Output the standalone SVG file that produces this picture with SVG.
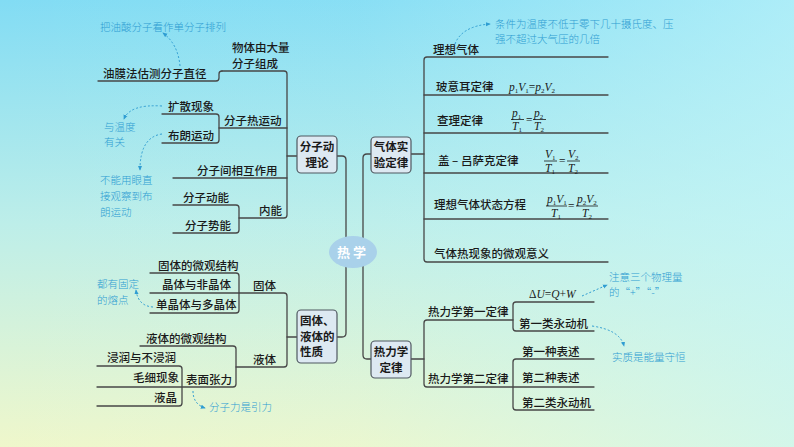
<svg xmlns="http://www.w3.org/2000/svg" width="794" height="447" viewBox="0 0 794 447">
<defs>
<linearGradient id="bgv" x1="0" y1="0" x2="0" y2="1">
<stop offset="0" stop-color="#82dcf4"/>
<stop offset="0.5" stop-color="#bdeee9"/>
<stop offset="1" stop-color="#eff7cb"/>
</linearGradient>
<linearGradient id="bgh" x1="0" y1="0" x2="1" y2="0">
<stop offset="0" stop-color="#c4f6fa" stop-opacity="0"/>
<stop offset="0.45" stop-color="#c4f6fa" stop-opacity="0.1"/>
<stop offset="1" stop-color="#c4f6fa" stop-opacity="0.65"/>
</linearGradient>
<marker id="ah" viewBox="0 0 6 6" refX="5" refY="3" markerWidth="5" markerHeight="5" orient="auto">
<path d="M0,0.5 L6,3 L0,5.5 z" fill="#2f9dd2"/>
</marker>
<style>
.ln{fill:none;stroke:#474747;stroke-width:1.3;stroke-linecap:round}
.t{font-family:"Noto Sans CJK SC","Noto Sans",sans-serif;font-size:11.5px;font-weight:500;fill:#1a1a1a}
.bx rect{fill:#dde9f2;stroke:#4f5860;stroke-width:1.2}
.bt{font-family:"Noto Sans CJK SC","Noto Sans",sans-serif;font-size:11.5px;font-weight:bold;fill:#1a1a1a}
.n{font-family:"Noto Sans CJK SC","Noto Sans",sans-serif;font-size:10.5px;font-weight:300;fill:#2f9dd2}
.da{fill:none;stroke:#2f9dd2;stroke-width:1;stroke-dasharray:2 2;marker-end:url(#ah)}
.f{font-family:"Liberation Serif",serif;font-size:11.5px;font-style:italic;fill:#1a1a1a}
.s{font-size:7px;font-style:normal}
.fl{stroke:#1a1a1a;stroke-width:0.8}
</style>
</defs>
<rect width="794" height="447" fill="url(#bgv)"/>
<rect width="794" height="447" fill="url(#bgh)"/>

<g id="connectors">
<path class="ln" d="M337,156 H342 Q346,156 346,160 V250"/>
<path class="ln" d="M346,250 V333 Q346,337 342,337 H337"/>
<path class="ln" d="M372,154 H367 Q363,154 363,158 V250"/>
<path class="ln" d="M363,250 V355 Q363,359 367,359 H372"/>
<path class="ln" d="M287,156 H297"/>
<path class="ln" d="M222,71 H284 Q287,71 287,74 V215 Q287,218 284,218 H239"/>
<path class="ln" d="M98,81 H216 Q219,81 219,78 V74 Q219,71 222,71"/>
<path class="ln" d="M219,128 H287"/>
<path class="ln" d="M162,114 H216 Q219,114 219,117 V140 Q219,143 216,143 H162"/>
<path class="ln" d="M173,178 H287"/>
<path class="ln" d="M173,205 H236 Q239,205 239,208 V230 Q239,233 236,233 H173"/>
<path class="ln" d="M287,337 H297"/>
<path class="ln" d="M239,293 H284 Q287,293 287,296 V364 Q287,367 284,367 H236"/>
<path class="ln" d="M150,273 H236 Q239,273 239,276 V310 Q239,313 236,313 H150"/>
<path class="ln" d="M150,293 H239"/>
<path class="ln" d="M140,346 H233 Q236,346 236,349 V384 Q236,387 233,387 H97"/>
<path class="ln" d="M97,366 H179 Q182,366 182,369 V403 Q182,406 179,406 H97"/>
<path class="ln" d="M411,154 H424"/>
<path class="ln" d="M608,57 H427 Q424,57 424,60 V259 Q424,262 427,262 H608"/>
<path class="ln" d="M424,95 H608 M424,133 H608 M424,173 H608 M424,219 H608"/>
<path class="ln" d="M411,359 H424"/>
<path class="ln" d="M513,320 H427 Q424,320 424,323 V384 Q424,387 427,387 H594"/>
<path class="ln" d="M594,302 H516 Q513,302 513,305 V328 Q513,331 516,331 H594"/>
<path class="ln" d="M594,359 H516 Q513,359 513,362 V407 Q513,410 516,410 H594"/>
<path class="da" d="M180,66 Q178,44 163,33"/>
<path class="da" d="M162,106 Q130,104 124,119"/>
<path class="da" d="M162,134 Q140,137 140,170"/>
<path class="da" d="M153,307 Q138,306 136,290"/>
<path class="da" d="M193,391 Q193,404 205,408"/>
<path class="da" d="M455,44 Q462,26 490,24"/>
<path class="da" d="M582,296 L607,285"/>
<path class="da" d="M592,326 Q620,330 624,346"/>
</g>

<g id="center">
<ellipse cx="353" cy="252" rx="24" ry="16" fill="#a9d1ea"/>
<text x="353" y="257" text-anchor="middle" style="font-family:'Noto Sans CJK SC',sans-serif;font-size:13px;font-weight:bold;fill:#ffffff;letter-spacing:3px">热学</text>
</g>

<g id="box-fenzi" class="bx">
<rect x="297" y="136" width="40" height="37" rx="4"/>
<text class="bt" x="317" y="151" text-anchor="middle">分子动</text>
<text class="bt" x="317" y="167" text-anchor="middle">理论</text>
</g>
<g id="box-qiti" class="bx">
<rect x="371" y="137" width="40" height="36" rx="4"/>
<text class="bt" x="391" y="151" text-anchor="middle">气体实</text>
<text class="bt" x="391" y="167" text-anchor="middle">验定律</text>
</g>
<g id="box-guti" class="bx">
<rect x="297" y="310" width="40" height="53" rx="4"/>
<text class="bt" x="300" y="325">固体、</text>
<text class="bt" x="300" y="341">液体的</text>
<text class="bt" x="300" y="356">性质</text>
</g>
<g id="box-relixue" class="bx">
<rect x="371" y="341" width="40" height="37" rx="4"/>
<text class="bt" x="391" y="356" text-anchor="middle">热力学</text>
<text class="bt" x="391" y="372" text-anchor="middle">定律</text>
</g>

<g id="n-wuti"><text class="t" x="232" y="52">物体由大量</text><text class="t" x="232" y="68">分子组成</text></g>
<g id="n-youmo"><text class="t" x="103" y="78">油膜法估测分子直径</text></g>
<g id="n-kuosan"><text class="t" x="168" y="111">扩散现象</text></g>
<g id="n-rey"><text class="t" x="224" y="125">分子热运动</text></g>
<g id="n-bulang"><text class="t" x="168" y="140">布朗运动</text></g>
<g id="n-xianghu"><text class="t" x="197" y="175">分子间相互作用</text></g>
<g id="n-dongneng"><text class="t" x="183" y="202">分子动能</text></g>
<g id="n-neineng"><text class="t" x="259" y="215">内能</text></g>
<g id="n-shineng"><text class="t" x="185" y="230">分子势能</text></g>

<g id="n-gtwg"><text class="t" x="158" y="270">固体的微观结构</text></g>
<g id="n-jingti"><text class="t" x="162" y="289">晶体与非晶体</text></g>
<g id="n-guti"><text class="t" x="253" y="290">固体</text></g>
<g id="n-danjing"><text class="t" x="156" y="309">单晶体与多晶体</text></g>
<g id="n-ytwg"><text class="t" x="146" y="343">液体的微观结构</text></g>
<g id="n-jinrun"><text class="t" x="107" y="362">浸润与不浸润</text></g>
<g id="n-yeti"><text class="t" x="253" y="364">液体</text></g>
<g id="n-maoxi"><text class="t" x="133" y="382">毛细现象</text></g>
<g id="n-biaomian"><text class="t" x="186" y="384">表面张力</text></g>
<g id="n-yejing"><text class="t" x="154" y="402">液晶</text></g>

<g id="n-lixiang"><text class="t" x="433" y="54">理想气体</text></g>
<g id="n-boyi"><text class="t" x="436" y="91">玻意耳定律</text>
<text class="f" x="509" y="91">p<tspan class="s" dy="2">1</tspan><tspan dy="-2">V</tspan><tspan class="s" dy="2">1</tspan><tspan dy="-2" style="font-style:normal">=</tspan>p<tspan class="s" dy="2">2</tspan><tspan dy="-2">V</tspan><tspan class="s" dy="2">2</tspan></text></g>
<g id="n-chali"><text class="t" x="437" y="125">查理定律</text>
<text class="f" x="512" y="117">p<tspan class="s" dy="2">1</tspan></text>
<line class="fl" x1="511" y1="119.5" x2="524" y2="119.5"/>
<text class="f" x="512" y="130">T<tspan class="s" dy="2">1</tspan></text>
<text class="f" x="526" y="124" style="font-style:normal">=</text>
<text class="f" x="534" y="117">p<tspan class="s" dy="2">2</tspan></text>
<line class="fl" x1="533" y1="119.5" x2="546" y2="119.5"/>
<text class="f" x="534" y="130">T<tspan class="s" dy="2">2</tspan></text></g>
<g id="n-gai"><text class="t" x="438" y="165">盖 – 吕萨克定律</text>
<text class="f" x="545" y="158">V<tspan class="s" dy="2">1</tspan></text>
<line class="fl" x1="544" y1="161" x2="557" y2="161"/>
<text class="f" x="545" y="172">T<tspan class="s" dy="2">1</tspan></text>
<text class="f" x="559" y="165" style="font-style:normal">=</text>
<text class="f" x="568" y="158">V<tspan class="s" dy="2">2</tspan></text>
<line class="fl" x1="567" y1="161" x2="580" y2="161"/>
<text class="f" x="568" y="172">T<tspan class="s" dy="2">2</tspan></text></g>
<g id="n-zhuangtai"><text class="t" x="434" y="209">理想气体状态方程</text>
<text class="f" x="547" y="203">p<tspan class="s" dy="2">1</tspan><tspan dy="-2">V</tspan><tspan class="s" dy="2">1</tspan></text>
<line class="fl" x1="546" y1="206" x2="567" y2="206"/>
<text class="f" x="551" y="217">T<tspan class="s" dy="2">1</tspan></text>
<text class="f" x="568" y="210" style="font-style:normal">=</text>
<text class="f" x="577" y="203">p<tspan class="s" dy="2">2</tspan><tspan dy="-2">V</tspan><tspan class="s" dy="2">2</tspan></text>
<line class="fl" x1="576" y1="206" x2="598" y2="206"/>
<text class="f" x="582" y="217">T<tspan class="s" dy="2">2</tspan></text></g>
<g id="n-weiguan"><text class="t" x="434" y="258">气体热现象的微观意义</text></g>

<g id="n-diyi"><text class="t" x="428" y="316">热力学第一定律</text></g>
<g id="n-dier"><text class="t" x="428" y="383">热力学第二定律</text></g>
<g id="n-du"><text class="f" x="529" y="298"><tspan style="font-style:normal">Δ</tspan>U<tspan style="font-style:normal">=</tspan>Q<tspan style="font-style:normal">+</tspan>W</text></g>
<g id="n-yilei"><text class="t" x="519" y="328">第一类永动机</text></g>
<g id="n-yizhong"><text class="t" x="522" y="356">第一种表述</text></g>
<g id="n-erzhong"><text class="t" x="522" y="382">第二种表述</text></g>
<g id="n-erlei"><text class="t" x="522" y="407">第二类永动机</text></g>

<g id="notes">
<text class="n" x="100" y="31">把油酸分子看作单分子排列</text>
<text class="n" x="104" y="131">与温度</text>
<text class="n" x="104" y="146">有关</text>
<text class="n" x="100" y="184">不能用眼直</text>
<text class="n" x="100" y="200">接观察到布</text>
<text class="n" x="100" y="216">朗运动</text>
<text class="n" x="97" y="288">都有固定</text>
<text class="n" x="97" y="304">的熔点</text>
<text class="n" x="209" y="411">分子力是引力</text>
<text class="n" x="495" y="28">条件为温度不低于零下几十摄氏度、压</text>
<text class="n" x="495" y="43">强不超过大气压的几倍</text>
<text class="n" x="609" y="281">注意三个物理量</text>
<text class="n" x="609" y="296">的“+”“-”</text>
<text class="n" x="612" y="361">实质是能量守恒</text>
</g>
</svg>
